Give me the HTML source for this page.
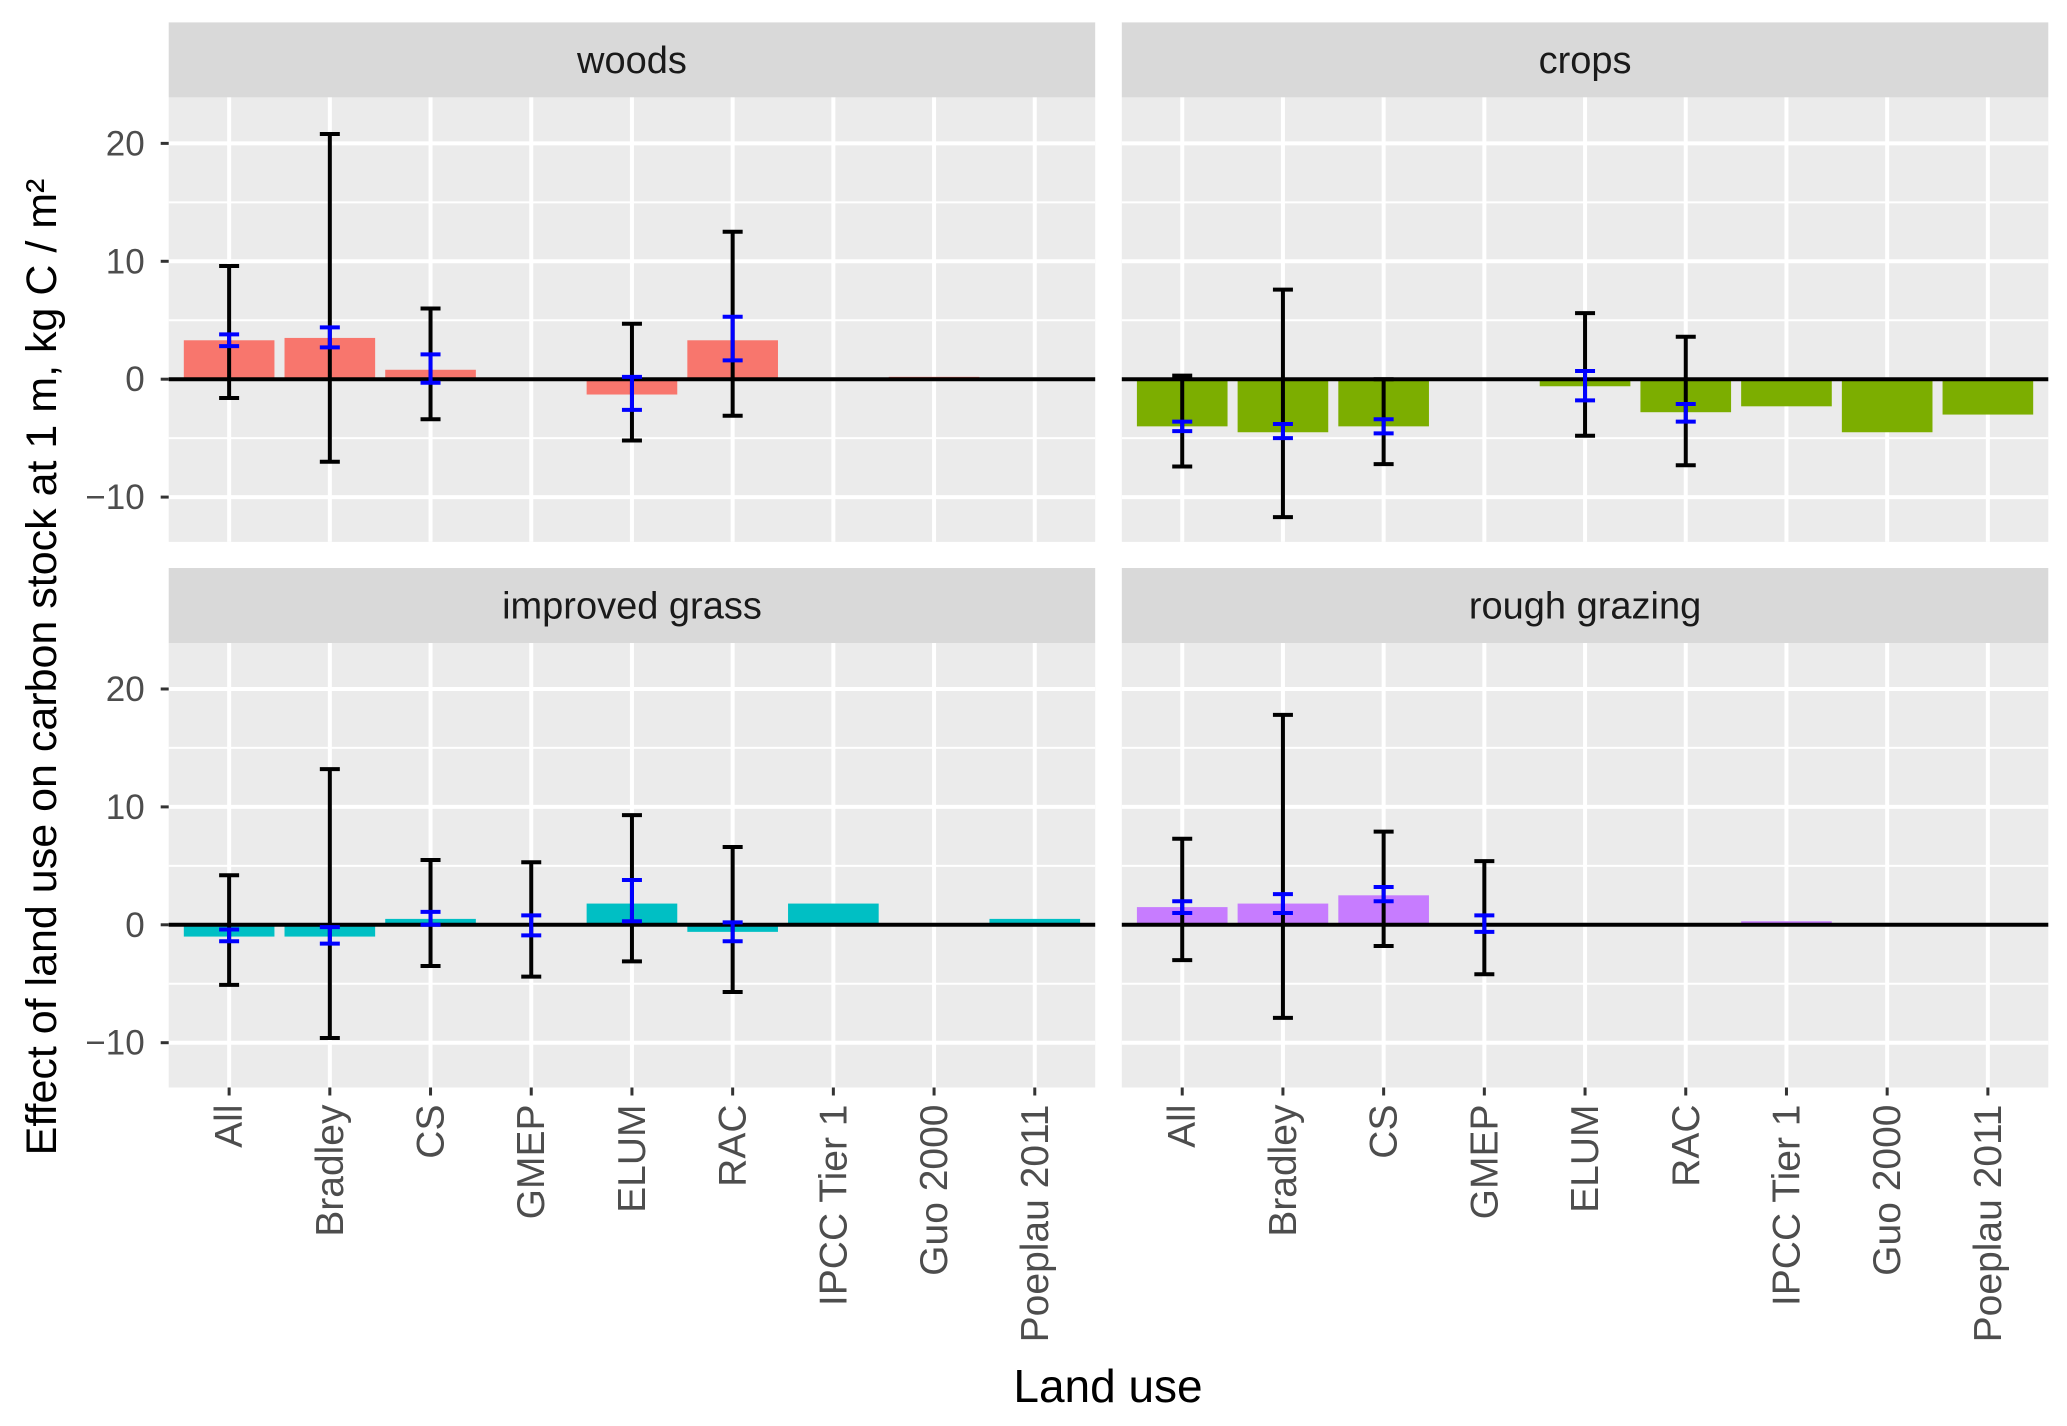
<!DOCTYPE html>
<html><head><meta charset="utf-8"><style>
html,body{margin:0;padding:0;background:#fff}
svg{display:block;font-family:"Liberation Sans",Arial,sans-serif}
</style></head><body>
<svg id="chart" width="2067" height="1426" viewBox="0 0 2067 1426" xmlns="http://www.w3.org/2000/svg">
<text x="0" y="0" transform="translate(56,667) rotate(-90)" text-anchor="middle" font-size="43" fill="#000">Effect of land use on carbon stock at 1 m, kg C / m²</text>
<text x="1108" y="1402" text-anchor="middle" font-size="46" fill="#000">Land use</text>
</svg>
<script>
const categories = ["All","Bradley","CS","GMEP","ELUM","RAC","IPCC Tier 1","Guo 2000","Poeplau 2011"];
const panelNames = ["woods","crops","improved grass","rough grazing"];
const panelColors = ["#F8766D","#7CAE00","#00BFC4","#C77CFF"];
const yTicks = [-10,0,10,20];
const yTickLabels = ["\u221210","0","10","20"];
// bar values (null = no bar)
const woodsBar  = [3.3,3.5,0.8,null,-1.3,3.3,null,0.2,0.1];
const cropsBar  = [-4.0,-4.5,-4.0,null,-0.6,-2.8,-2.3,-4.5,-3.0];
const grassBar  = [-1.0,-1.0,0.5,0.1,1.8,-0.6,1.8,0.1,0.5];
const roughBar  = [1.5,1.8,2.5,null,null,null,0.3,null,null];
// black error bars: low / high
const woodsLo = [-1.6,-7.0,-3.4,null,-5.2,-3.1,null,null,null];
const woodsHi = [9.6,20.8,6.0,null,4.7,12.5,null,null,null];
const cropsLo = [-7.4,-11.7,-7.2,null,-4.8,-7.3,null,null,null];
const cropsHi = [0.3,7.6,0.0,null,5.6,3.6,null,null,null];
const grassLo = [-5.1,-9.6,-3.5,-4.4,-3.1,-5.7,null,null,null];
const grassHi = [4.2,13.2,5.5,5.3,9.3,6.6,null,null,null];
const roughLo = [-3.0,-7.9,-1.8,-4.2,null,null,null,null,null];
const roughHi = [7.3,17.8,7.9,5.4,null,null,null,null,null];
// blue (standard error) bars
const woodsSeLo = [2.8,2.7,-0.3,null,-2.6,1.6,null,null,null];
const woodsSeHi = [3.8,4.4,2.1,null,0.2,5.3,null,null,null];
const cropsSeLo = [-4.4,-5.0,-4.6,null,-1.8,-3.6,null,null,null];
const cropsSeHi = [-3.6,-3.8,-3.4,null,0.7,-2.1,null,null,null];
const grassSeLo = [-1.4,-1.6,0.0,-0.9,0.3,-1.4,null,null,null];
const grassSeHi = [-0.4,-0.2,1.1,0.8,3.8,0.2,null,null,null];
const roughSeLo = [1.0,1.0,2.0,-0.6,null,null,null,null,null];
const roughSeHi = [2.0,2.6,3.2,0.8,null,null,null,null,null];

const bars=[woodsBar,cropsBar,grassBar,roughBar];
const los=[woodsLo,cropsLo,grassLo,roughLo], his=[woodsHi,cropsHi,grassHi,roughHi];
const seLos=[woodsSeLo,cropsSeLo,grassSeLo,roughSeLo], seHis=[woodsSeHi,cropsSeHi,grassSeHi,roughSeHi];

const svg=document.getElementById('chart');
const NS='http://www.w3.org/2000/svg';
function mk(tag,attrs,parent){const e=document.createElementNS(NS,tag);for(const k in attrs)e.setAttribute(k,attrs[k]);(parent||svg).appendChild(e);return e;}

const colX=[168.7,1121.8], panelW=926.5;
const rowStrip=[22.4,568], stripH=75, plotH=444.5;
const yMin=-13.8, yMax=23.9;
const n=categories.length;

for(let p=0;p<4;p++){
  const col=p%2,row=Math.floor(p/2);
  const x0=colX[col], sTop=rowStrip[row], pTop=sTop+stripH, pBot=pTop+plotH;
  const xs=i=>x0+panelW*(i+0.6)/(n-1+1.2);
  const bw=0.9*panelW/(n-1+1.2);
  const ys=v=>pBot-(v-yMin)/(yMax-yMin)*plotH;
  const g=mk('g',{});
  
  
  const strip=mk('rect',{x:x0,y:sTop,width:panelW,height:stripH,fill:'#D9D9D9'},g);
  
  
  const st=mk('text',{x:x0+panelW/2,y:sTop+stripH/2+13,'text-anchor':'middle','font-size':38,fill:'#1a1a1a'},g);
  st.textContent=panelNames[p];
  
  
  const bg=mk('rect',{x:x0,y:pTop,width:panelW,height:plotH,fill:'#EBEBEB'},g);
  
  
  for(const v of [-5,5,15]){ if(ys(v)>pTop) mk('line',{x1:x0,x2:x0+panelW,y1:ys(v),y2:ys(v),stroke:'#fff','stroke-width':2},g); }
  for(const v of yTicks){ mk('line',{x1:x0,x2:x0+panelW,y1:ys(v),y2:ys(v),stroke:'#fff','stroke-width':4},g); }
  for(let i=0;i<n;i++){ mk('line',{x1:xs(i),x2:xs(i),y1:pTop,y2:pBot,stroke:'#fff','stroke-width':4},g); }
  for(let i=0;i<n;i++){const v=bars[p][i]; if(v===null)continue;
    const r=mk('rect',{x:xs(i)-bw/2,y:Math.min(ys(v),ys(0)),width:bw,height:Math.max(Math.abs(ys(v)-ys(0)),1.5),fill:panelColors[p]},g);
    
    
  }
  mk('line',{x1:x0,x2:x0+panelW,y1:ys(0),y2:ys(0),stroke:'#000','stroke-width':4},g);
  const cap=10;
  for(let i=0;i<n;i++){
    if(los[p][i]!==null){
      const eb=mk('g',{stroke:'#000','stroke-width':4},g);
      
      
      const a=ys(los[p][i]),b=ys(his[p][i]),x=xs(i);
      mk('line',{x1:x,x2:x,y1:a,y2:b},eb);
      mk('line',{x1:x-cap,x2:x+cap,y1:a,y2:a},eb);
      mk('line',{x1:x-cap,x2:x+cap,y1:b,y2:b},eb);
    }
    if(seLos[p][i]!==null){
      const eb=mk('g',{stroke:'#0000FF','stroke-width':4},g);
      
      
      const a=ys(seLos[p][i]),b=ys(seHis[p][i]),x=xs(i);
      mk('line',{x1:x,x2:x,y1:a,y2:b},eb);
      mk('line',{x1:x-cap,x2:x+cap,y1:a,y2:a},eb);
      mk('line',{x1:x-cap,x2:x+cap,y1:b,y2:b},eb);
    }
  }
  if(col===0){
    for(let k=0;k<yTicks.length;k++){const y=ys(yTicks[k]);
      mk('line',{x1:x0-8,x2:x0,y1:y,y2:y,stroke:'#333','stroke-width':3},g);
      const t=mk('text',{x:x0-24,y:y+12,'text-anchor':'end','font-size':35,fill:'#4d4d4d'},g);
      t.textContent=yTickLabels[k];
      
      
    }
  }
  if(row===1){
    for(let i=0;i<n;i++){const x=xs(i);
      mk('line',{x1:x,x2:x,y1:pBot,y2:pBot+8,stroke:'#333','stroke-width':3},g);
      const t=mk('text',{x:0,y:0,transform:`translate(${x+13},${pBot+17}) rotate(-90)`,'text-anchor':'end','font-size':39,fill:'#4d4d4d'},g);
      t.textContent=categories[i];
      
      
    }
  }
}
</script>
</body></html>
